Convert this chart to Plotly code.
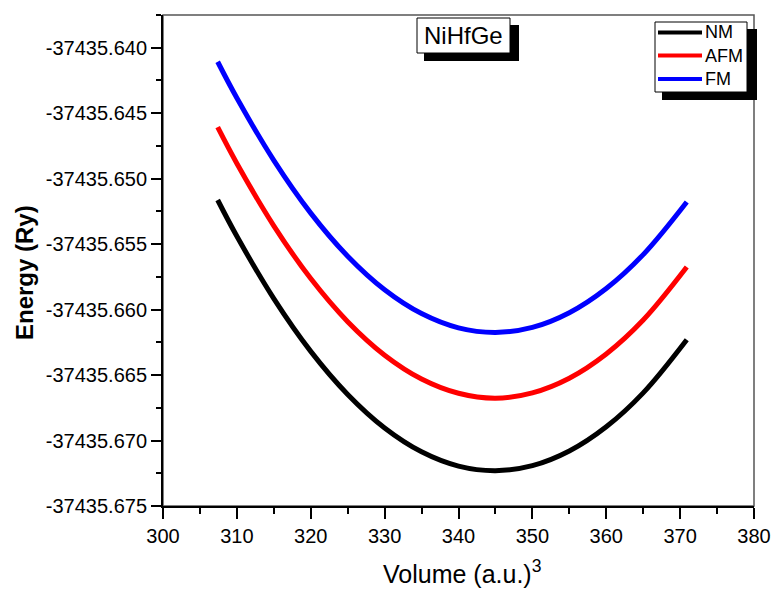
import plotly.graph_objects as go

# ---- data ----
volume = [307.4, 310, 315, 320, 325, 330, 335, 340, 345, 350, 355, 360, 365, 370.9]
energy_nm = [-37435.65163, -37435.65440, -37435.65916, -37435.66319, -37435.66648,
             -37435.66904, -37435.67086, -37435.67195, -37435.67230, -37435.67192,
             -37435.67080, -37435.66895, -37435.66636, -37435.66230]
energy_afm = [-37435.64607, -37435.64884, -37435.65360, -37435.65763, -37435.66092,
              -37435.66348, -37435.66530, -37435.66639, -37435.66677, -37435.66636,
              -37435.66524, -37435.66339, -37435.66080, -37435.65675]
energy_fm = [-37435.64107, -37435.64384, -37435.64860, -37435.65263, -37435.65592,
             -37435.65848, -37435.66030, -37435.66139, -37435.66174, -37435.66136,
             -37435.66024, -37435.65839, -37435.65580, -37435.65178]
series_names = ["NM", "AFM", "FM"]
series_colors = ["#000000", "#ff0000", "#0000ff"]
x_tick_values = [300, 310, 320, 330, 340, 350, 360, 370, 380]
y_tick_values = [-37435.640, -37435.645, -37435.650, -37435.655,
                 -37435.660, -37435.665, -37435.670, -37435.675]
y_tick_labels = ["-37435.640", "-37435.645", "-37435.650", "-37435.655",
                 "-37435.660", "-37435.665", "-37435.670", "-37435.675"]
title_text = "NiHfGe"

W, H = 774, 590
L, R, T, B = 163, 754, 15, 506          # plot-area edges in page pixels
FONT = "Liberation Sans, Arial, sans-serif"


def pxx(x):
    return (x - L) / (R - L)


def pxy(y):
    return (B - y) / (B - T)


fig = go.Figure()
for name, ys, col in zip(series_names, [energy_nm, energy_afm, energy_fm], series_colors):
    fig.add_trace(go.Scatter(x=volume, y=ys, mode="lines", name=name,
                             line=dict(color=col, width=5, shape="spline"),
                             showlegend=False))

shapes = []
annotations = []

# plot frame (top/right thin)
shapes.append(dict(type="rect", xref="paper", yref="paper", x0=0, x1=1, y0=0, y1=1,
                   line=dict(color="#555555", width=1.5), layer="below"))

# NiHfGe label box with shadow
shapes.append(dict(type="rect", xref="paper", yref="paper",
                   x0=pxx(424), x1=pxx(519), y0=pxy(61), y1=pxy(25),
                   fillcolor="black", line=dict(width=0)))
shapes.append(dict(type="rect", xref="paper", yref="paper",
                   x0=pxx(417), x1=pxx(510), y0=pxy(53), y1=pxy(18),
                   fillcolor="white", line=dict(color="black", width=1)))
annotations.append(dict(text=title_text, xref="paper", yref="paper",
                        x=pxx(463.5), y=pxy(35.5), showarrow=False,
                        xanchor="center", yanchor="middle",
                        font=dict(family=FONT, size=24, color="black")))

# legend box with shadow
shapes.append(dict(type="rect", xref="paper", yref="paper",
                   x0=pxx(662), x1=pxx(757), y0=pxy(100), y1=pxy(29),
                   fillcolor="black", line=dict(width=0)))
shapes.append(dict(type="rect", xref="paper", yref="paper",
                   x0=pxx(655), x1=pxx(747), y0=pxy(92), y1=pxy(22),
                   fillcolor="white", line=dict(color="black", width=1)))
for i, (name, col) in enumerate(zip(series_names, series_colors)):
    yy = [32.5, 55.5, 79][i]
    shapes.append(dict(type="line", xref="paper", yref="paper",
                       x0=pxx(658), x1=pxx(702), y0=pxy(yy), y1=pxy(yy),
                       line=dict(color=col, width=4)))
    annotations.append(dict(text=name, xref="paper", yref="paper",
                            x=pxx(703), y=pxy(yy), showarrow=False,
                            xanchor="left", yanchor="middle",
                            font=dict(family=FONT, size=18, color="black")))

# axis titles
annotations.append(dict(text="<b>Energy (Ry)</b>", xref="paper", yref="paper",
                        x=pxx(24), y=pxy(273), showarrow=False, textangle=-90,
                        xanchor="center", yanchor="middle",
                        font=dict(family=FONT, size=24, color="black")))
annotations.append(dict(text="Volume (a.u.)<sup>3</sup>", xref="paper", yref="paper",
                        x=pxx(462), y=pxy(572), showarrow=False,
                        xanchor="center", yanchor="middle",
                        font=dict(family=FONT, size=25, color="black")))

fig.update_layout(
    width=W, height=H, autosize=False,
    margin=dict(l=L, r=W - R, t=T, b=H - B, autoexpand=False),
    paper_bgcolor="white", plot_bgcolor="white",
    font=dict(family=FONT, color="black"),
    shapes=shapes, annotations=annotations,
)
fig.update_xaxes(range=[300, 380], tickmode="array", tickvals=x_tick_values,
                 automargin=False,
                 ticks="outside", ticklen=11, tickwidth=2, tickcolor="black",
                 minor=dict(tick0=300, dtick=5, ticks="outside", ticklen=6,
                            tickwidth=2, tickcolor="black"),
                 showline=True, linecolor="black", linewidth=2,
                 showgrid=False, zeroline=False,
                 tickfont=dict(family=FONT, size=20, color="black"))
fig.update_yaxes(range=[-37435.675, -37435.6375], tickmode="array",
                 tickvals=y_tick_values, ticktext=y_tick_labels,
                 automargin=False,
                 ticks="outside", ticklen=10, tickwidth=2, tickcolor="black",
                 minor=dict(tick0=-37435.675, dtick=0.0025, ticks="outside",
                            ticklen=5, tickwidth=2, tickcolor="black"),
                 showline=True, linecolor="black", linewidth=2,
                 showgrid=False, zeroline=False,
                 tickfont=dict(family=FONT, size=20, color="black"))

fig.write_html("out.html",
               config={"displayModeBar": False, "responsive": False},
               post_script="document.body.style.margin='0';"
                           "document.body.style.overflow='hidden';")
